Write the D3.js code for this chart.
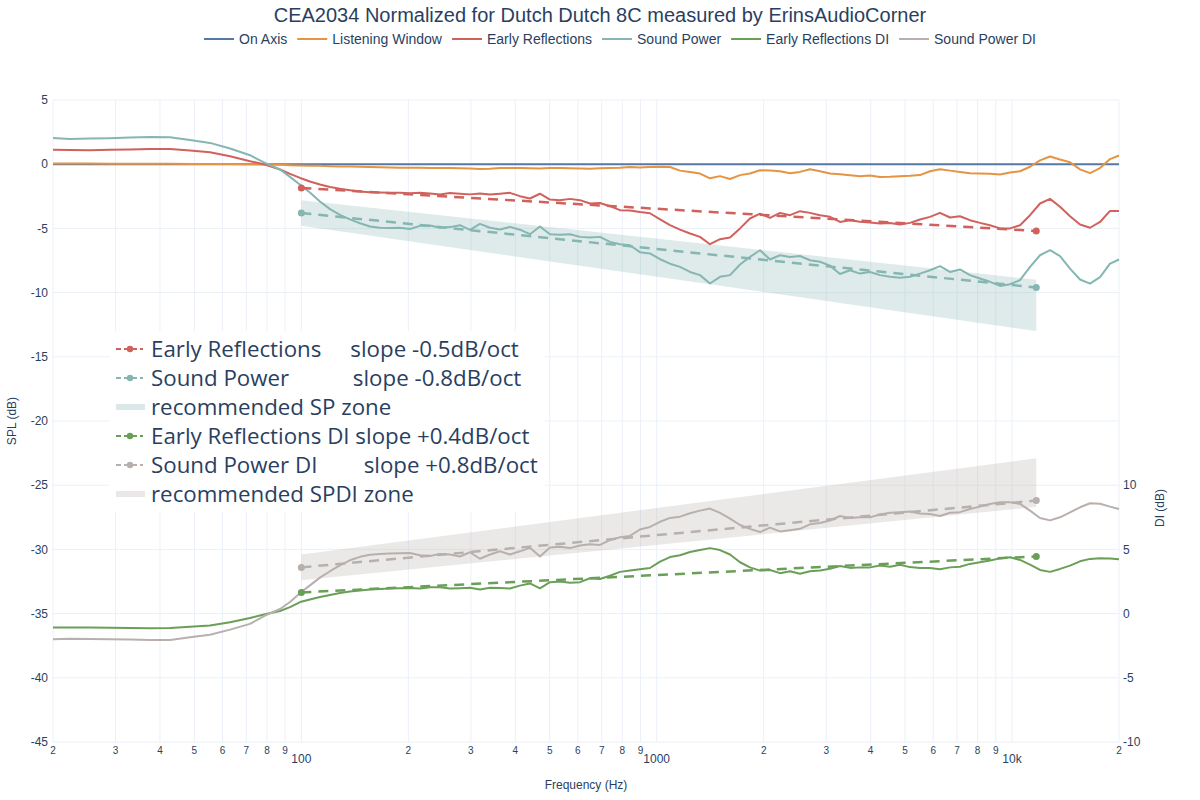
<!DOCTYPE html>
<html><head><meta charset="utf-8">
<script src="https://cdn.jsdelivr.net/npm/d3@7"></script>
<style>body{margin:0;background:#fff} svg{display:block}</style>
</head><body><svg id="c" width="1200" height="800"></svg>
<script>
// ---------------- DATA ----------------
const freqs = [20,22.3,25.4,28.9,32.9,37.5,42.7,48.6,55.3,63.0,71.7,79.0,87.1,92.9,99.2,
105.7,112.8,120.4,128.4,137.0,146.2,156.0,166.4,177.5,189.4,
202.1,215.6,230.1,245.5,261.9,279.4,298.2,318.1,339.4,362.1,
386.4,412.2,439.8,469.3,500.7,534.2,570.0,608.1,648.9,692.3,
738.6,788.1,840.9,897.1,957.2,
1022,1090,1163,1241,1324,1412,1507,1608,1716,1830,
1953,2084,2223,2372,2531,2700,2881,3074,3279,3499,
3733,3983,4250,4534,4838,5161,5507,5876,6269,6689,
7136,7614,8124,8668,9248,9871,10532,11237,11989,12792,
13648,14562,15537,16577,17687,18871,20000];

const onAxis = [0,0,0,0,0,0,0,0,0,0,0,0,0,0,0,
0,0,0,0,0,0,0,0,0,0,0,0,0,0,0,0,0,0,0,0,0,0,0,0,0,0,0,0,0,0,0,0,0,0,0,
0,0,0,0,0,0,0,0,0,0,0,0,0,0,0,0,0,0,0,0,0,0,0,0,0,0,0,0,0,0,0,0,0,0,0,0,0,0,0,0,0,0,0,0,0,0,0];

const listeningWindow = [0.05,0.05,0.05,0.04,0.04,0.03,0.03,0.02,0.02,0.01,0.0,-0.02,-0.05,-0.08,-0.1,
-0.12,-0.13,-0.15,-0.17,-0.18,-0.2,-0.22,-0.23,-0.25,-0.27,
-0.28,-0.28,-0.3,-0.3,-0.3,-0.32,-0.33,-0.38,-0.35,-0.3,
-0.29,-0.3,-0.32,-0.33,-0.3,-0.3,-0.32,-0.33,-0.35,-0.32,
-0.3,-0.27,-0.22,-0.25,-0.22,
-0.2,-0.22,-0.5,-0.6,-0.73,-1.1,-0.93,-1.15,-0.85,-0.73,
-0.47,-0.5,-0.55,-0.7,-0.6,-0.4,-0.55,-0.73,-0.78,-0.86,
-0.93,-0.88,-1.0,-0.98,-0.93,-0.9,-0.85,-0.55,-0.4,-0.5,
-0.6,-0.7,-0.72,-0.75,-0.8,-0.65,-0.55,-0.2,0.3,0.6,
0.36,0.15,-0.4,-0.7,-0.3,0.4,0.68];

const earlyReflections = [1.12,1.1,1.09,1.12,1.14,1.18,1.19,1.06,0.93,0.62,0.23,-0.02,-0.41,-0.75,-1.07,
-1.35,-1.58,-1.77,-1.92,-2.02,-2.12,-2.18,-2.2,-2.22,-2.23,
-2.27,-2.22,-2.28,-2.36,-2.25,-2.3,-2.35,-2.28,-2.36,-2.3,
-2.23,-2.49,-2.67,-2.3,-2.75,-2.8,-2.7,-2.8,-3.06,-3.02,
-3.27,-3.58,-3.6,-3.72,-3.82,
-4.3,-4.75,-5.09,-5.4,-5.66,-6.23,-5.84,-5.71,-5.0,-4.23,
-3.85,-4.18,-3.79,-3.97,-3.66,-3.79,-3.97,-4.1,-4.5,-4.36,
-4.49,-4.55,-4.62,-4.58,-4.7,-4.57,-4.31,-4.1,-3.79,-4.15,
-4.05,-4.36,-4.57,-4.75,-5.0,-5.0,-4.75,-3.97,-3.06,-2.7,
-3.32,-4.05,-4.7,-4.95,-4.5,-3.64,-3.64];

const soundPower = [2.05,1.97,2.0,2.02,2.07,2.12,2.1,1.88,1.66,1.22,0.7,0.1,-0.41,-0.99,-1.6,
-2.2,-2.9,-3.5,-3.95,-4.3,-4.6,-4.85,-4.95,-4.97,-4.95,
-5.05,-4.8,-4.78,-4.95,-4.9,-4.75,-5.12,-4.65,-4.95,-5.08,
-4.88,-5.1,-5.45,-4.85,-5.45,-5.5,-5.45,-5.66,-5.7,-5.66,
-6.05,-6.23,-6.31,-6.85,-6.95,
-7.4,-7.75,-8.0,-8.39,-8.64,-9.29,-8.77,-8.64,-7.81,-7.22,
-6.7,-7.42,-7.09,-7.22,-7.15,-7.48,-7.6,-7.9,-8.55,-8.26,
-8.52,-8.4,-8.64,-8.77,-8.85,-8.77,-8.52,-8.26,-7.94,-8.39,
-8.2,-8.64,-8.9,-9.16,-9.48,-9.35,-9.03,-8.0,-7.09,-6.7,
-7.16,-8.13,-8.98,-9.3,-8.8,-7.74,-7.42];

const earlyReflectionsDI = [-1.08,-1.08,-1.09,-1.1,-1.12,-1.14,-1.13,-1.03,-0.92,-0.67,-0.34,-0.05,0.2,0.5,0.9,
1.1,1.3,1.45,1.6,1.72,1.8,1.87,1.92,1.95,1.97,
2.0,1.95,2.05,2.05,1.95,1.98,2.02,1.88,2.01,2.0,
1.95,2.18,2.35,1.97,2.45,2.5,2.4,2.45,2.75,2.7,
2.95,3.25,3.35,3.45,3.55,
4.05,4.4,4.55,4.8,4.96,5.1,4.95,4.6,4.0,3.6,
3.35,3.4,3.15,3.3,3.1,3.3,3.35,3.5,3.7,3.56,
3.6,3.6,3.74,3.65,3.8,3.62,3.55,3.55,3.45,3.6,
3.65,3.87,4.0,4.13,4.3,4.39,4.18,3.82,3.4,3.25,
3.48,3.74,4.07,4.26,4.31,4.3,4.23];

const soundPowerDI = [-2.0,-1.95,-1.98,-2.0,-2.02,-2.05,-2.05,-1.85,-1.64,-1.25,-0.8,-0.15,0.36,0.9,1.6,
2.2,2.8,3.3,3.75,4.15,4.42,4.58,4.65,4.68,4.7,
4.72,4.55,4.48,4.65,4.6,4.45,4.78,4.27,4.6,4.85,
4.6,4.85,5.12,4.45,5.15,5.2,5.1,5.3,5.4,5.35,
5.72,5.95,6.05,6.55,6.75,
7.15,7.45,7.55,7.82,8.02,8.18,7.85,7.4,6.9,6.6,
6.35,6.7,6.4,6.5,6.6,6.95,7.05,7.25,7.6,7.45,
7.5,7.5,7.71,7.85,7.9,7.95,7.8,7.75,7.6,7.85,
7.9,8.15,8.33,8.54,8.67,8.68,8.54,8.02,7.45,7.26,
7.5,7.89,8.28,8.59,8.55,8.33,8.15];

// regression lines and recommended zones (endpoints at 100 Hz and ~11.7 kHz)
const fitFreqs = [100, 11700];
const erFit = [-1.85, -5.2];
const spFit = [-3.8, -9.6];
const spZoneTop = [-2.8, -9.0];
const spZoneBottom = [-4.8, -13.0];
const erdiFit = [1.65, 4.45];
const spdiFit = [3.6, 8.8];
const spdiZoneTop = [4.6, 12.1];
const spdiZoneBottom = [2.6, 8.3];

const seriesNames = ["On Axis","Listening Window","Early Reflections","Sound Power","Early Reflections DI","Sound Power DI"];
const seriesColors = ["#5778a4","#e49444","#d1615d","#85b6b2","#6a9f58","#b8b0ac"];

const xTicks = [20,30,40,50,60,70,80,90,100,200,300,400,500,600,700,800,900,1000,2000,3000,4000,5000,6000,7000,8000,9000,10000,20000];
const xTickLabels = ["2","3","4","5","6","7","8","9","100","2","3","4","5","6","7","8","9","1000","2","3","4","5","6","7","8","9","10k","2"];
const splTicks = [5,0,-5,-10,-15,-20,-25,-30,-35,-40,-45];
const diTicks = [10,5,0,-5,-10];

const slopeLegend = [
  {label:"Early Reflections     slope -0.5dB/oct", color:"#d1615d", kind:"line"},
  {label:"Sound Power           slope -0.8dB/oct", color:"#85b6b2", kind:"line"},
  {label:"recommended SP zone", color:"#85b6b2", kind:"zone"},
  {label:"Early Reflections DI slope +0.4dB/oct", color:"#6a9f58", kind:"line"},
  {label:"Sound Power DI        slope +0.8dB/oct", color:"#b8b0ac", kind:"line"},
  {label:"recommended SPDI zone", color:"#b8b0ac", kind:"zone"}
];

// ---------------- DRAW ----------------
const svg = d3.select('#c');
const FONT = '"Liberation Sans", Arial, Helvetica, sans-serif';
const TXT = '#2a3f5f';
const GRID = '#ebf0f8';
const x = d3.scaleLog().domain([20,20000]).range([53,1119]);
const yL = d3.scaleLinear().domain([-45,5]).range([742,100]);
const yR = d3.scaleLinear().domain([-10,40]).range([742,100]);

svg.append('rect').attr('width',1200).attr('height',800).attr('fill','#fff');

// grid
const g = svg.append('g');
g.selectAll('line.v').data(xTicks).join('line')
  .attr('x1',d=>x(d)).attr('x2',d=>x(d)).attr('y1',100).attr('y2',742)
  .attr('stroke',GRID).attr('stroke-width',1);
g.selectAll('line.h').data(splTicks).join('line')
  .attr('x1',53).attr('x2',1119).attr('y1',d=>yL(d)).attr('y2',d=>yL(d))
  .attr('stroke',GRID).attr('stroke-width',1);

// axes labels
const ax = svg.append('g').attr('font-family',FONT).attr('fill',TXT);
ax.selectAll('text.l').data(splTicks).join('text')
  .attr('x',48).attr('y',d=>yL(d)).attr('dy','0.35em').attr('text-anchor','end')
  .attr('font-size',12).text(d=>d);
ax.selectAll('text.r').data(diTicks).join('text')
  .attr('x',1123).attr('y',d=>yR(d)).attr('dy','0.35em').attr('text-anchor','start')
  .attr('font-size',12).text(d=>d);
ax.selectAll('text.x').data(xTicks).join('text')
  .attr('x',d=>x(d)).attr('y',(d,i)=>xTickLabels[i].length>1?763:754)
  .attr('text-anchor','middle')
  .attr('font-size',(d,i)=>xTickLabels[i].length>1?12:10)
  .text((d,i)=>xTickLabels[i]);
ax.append('text').attr('x',586).attr('y',789).attr('text-anchor','middle').attr('font-size',12).text('Frequency (Hz)');
ax.append('text').attr('transform','translate(16,421) rotate(-90)').attr('text-anchor','middle').attr('font-size',12).text('SPL (dB)');
ax.append('text').attr('transform','translate(1164,508) rotate(-90)').attr('text-anchor','middle').attr('font-size',12).text('DI (dB)');

// zones
const zoneArea = (yS) => d3.area().x(d=>x(d.f)).y0(d=>yS(d.b)).y1(d=>yS(d.t));
svg.append('path').datum(fitFreqs.map((f,i)=>({f,t:spZoneTop[i],b:spZoneBottom[i]})))
  .attr('d',zoneArea(yL)).attr('fill','#85b6b2').attr('fill-opacity',0.27);
svg.append('path').datum(fitFreqs.map((f,i)=>({f,t:spdiZoneTop[i],b:spdiZoneBottom[i]})))
  .attr('d',zoneArea(yR)).attr('fill','#b8b0ac').attr('fill-opacity',0.28);

// curves
const curves = [
  {v:onAxis, s:yL, c:seriesColors[0]},
  {v:listeningWindow, s:yL, c:seriesColors[1]},
  {v:earlyReflections, s:yL, c:seriesColors[2]},
  {v:soundPower, s:yL, c:seriesColors[3]},
  {v:earlyReflectionsDI, s:yR, c:seriesColors[4]},
  {v:soundPowerDI, s:yR, c:seriesColors[5]}
];
curves.forEach(cv=>{
  const line = d3.line().x(d=>x(d[0])).y(d=>cv.s(d[1]));
  svg.append('path').datum(freqs.map((f,i)=>[f,cv.v[i]]))
    .attr('d',line).attr('fill','none').attr('stroke',cv.c).attr('stroke-width',2)
    .attr('stroke-linejoin','round');
});

// fit lines
const fits = [
  {v:erFit, s:yL, c:seriesColors[2]},
  {v:spFit, s:yL, c:seriesColors[3]},
  {v:erdiFit, s:yR, c:seriesColors[4]},
  {v:spdiFit, s:yR, c:seriesColors[5]}
];
fits.forEach(ft=>{
  const pts = fitFreqs.map((f,i)=>[f,ft.v[i]]);
  svg.append('path').datum(pts)
    .attr('d',d3.line().x(d=>x(d[0])).y(d=>ft.s(d[1])))
    .attr('fill','none').attr('stroke',ft.c).attr('stroke-width',2.5).attr('stroke-dasharray','10,7');
  svg.selectAll(null).data(pts).join('circle')
    .attr('cx',d=>x(d[0])).attr('cy',d=>ft.s(d[1])).attr('r',3.5).attr('fill',ft.c);
});

// slope legend box
const lg = svg.append('g');
lg.append('rect').attr('x',110).attr('y',331).attr('width',435).attr('height',181).attr('fill','#fff');
slopeLegend.forEach((it,i)=>{
  const yy = 349 + i*29;
  if(it.kind==='line'){
    lg.append('line').attr('x1',116).attr('x2',143).attr('y1',yy).attr('y2',yy)
      .attr('stroke',it.color).attr('stroke-width',2).attr('stroke-dasharray','5,3');
    lg.append('circle').attr('cx',130).attr('cy',yy).attr('r',3.2).attr('fill',it.color);
  } else {
    lg.append('line').attr('x1',116).attr('x2',145).attr('y1',yy).attr('y2',yy)
      .attr('stroke',it.color).attr('stroke-opacity',0.3).attr('stroke-width',6);
  }
  lg.append('text').attr('x',151).attr('y',yy).attr('dy','0.35em')
    .attr('font-family','"Open Sans", sans-serif').attr('font-size',22.3)
    .attr('fill',TXT).style('white-space','pre').text(it.label);
});

// title
svg.append('text').attr('x',600).attr('y',22).attr('text-anchor','middle')
  .attr('font-family',FONT).attr('font-size',20).attr('fill',TXT)
  .text('CEA2034 Normalized for Dutch Dutch 8C measured by ErinsAudioCorner');

// top legend
const tl = svg.append('g').attr('font-family',FONT).attr('font-size',14).attr('fill',TXT);
let cx = 204;
seriesNames.forEach((n,i)=>{
  tl.append('line').attr('x1',cx).attr('x2',cx+30).attr('y1',39).attr('y2',39)
    .attr('stroke',seriesColors[i]).attr('stroke-width',2);
  const t = tl.append('text').attr('x',cx+35).attr('y',39).attr('dy','0.35em').text(n);
  cx = cx + 35 + t.node().getComputedTextLength() + 10;
});
</script></body></html>
